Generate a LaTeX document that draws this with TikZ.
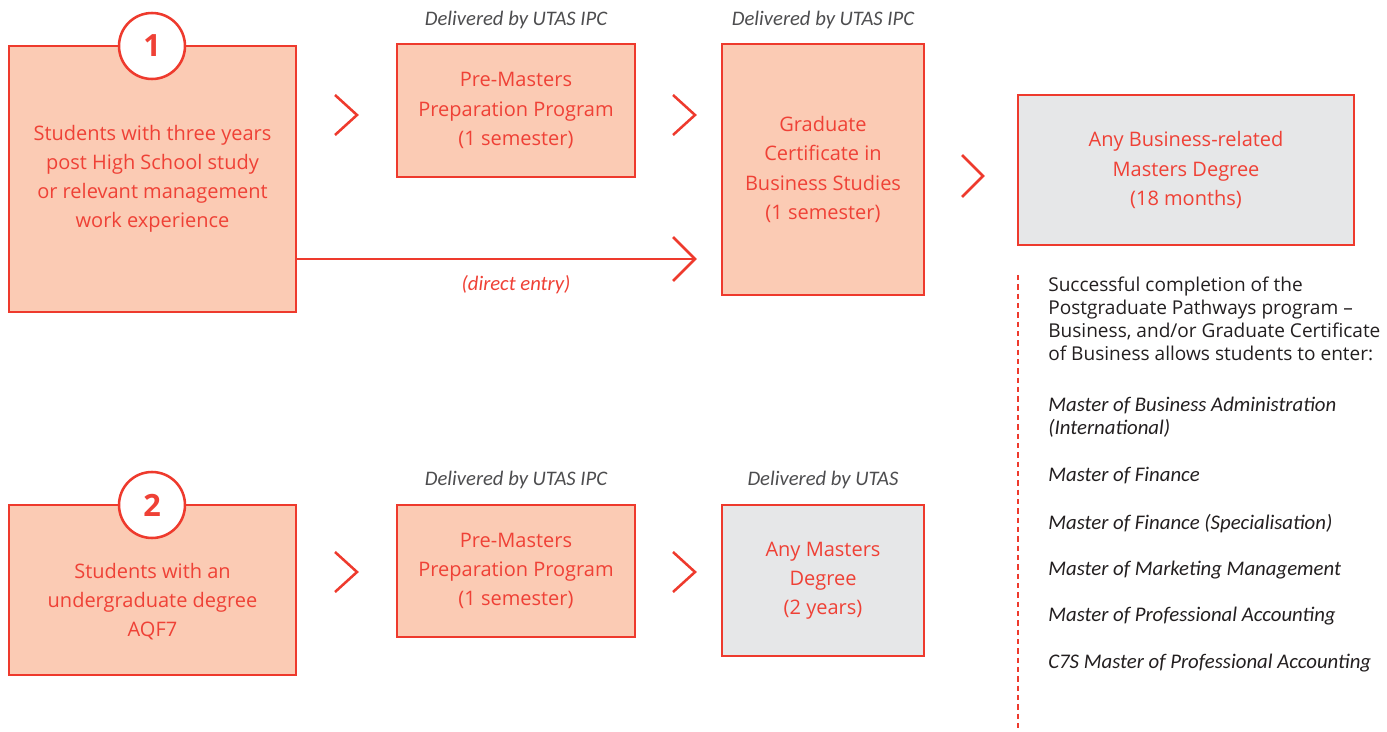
\documentclass[tikz,border=0pt]{standalone}
\usepackage{fontspec}
\setmainfont{Open Sans}
\newfontfamily\itfont{Carlito}
\definecolor{ored}{HTML}{EE3A2D}
\definecolor{otext}{HTML}{EF4136}
\definecolor{peach}{HTML}{FBCBB4}
\definecolor{lgrey}{HTML}{E6E7E8}
\definecolor{dgrey}{HTML}{231F20}
\definecolor{mgrey}{HTML}{4D4D4F}
\begin{document}
\begin{tikzpicture}[x=0.75pt,y=-0.75pt,
  box/.style={draw=ored,line width=1.9pt,inner sep=0pt,align=center,text=otext,
    font=\fontsize{15}{21.8}\selectfont},
  pbox/.style={box,fill=peach},
  gbox/.style={box,fill=lgrey},
  numcirc/.style={circle,draw=ored,fill=white,line width=1.9pt,minimum size=49.5pt,inner sep=0pt,
    text=otext,font=\fontsize{23}{23}\selectfont\bfseries},
  chev/.style={draw=ored,line width=1.9pt},
  deliv/.style={text=mgrey,font=\itfont\itshape\fontsize{15.5}{17}\selectfont},
  side/.style={text=dgrey,anchor=north west,align=left,inner sep=0pt,font=\fontsize{14.3}{17.25}\selectfont},
  sideit/.style={side,font=\itfont\itshape\fontsize{15.6}{17.25}\selectfont}
]
\useasboundingbox (0,0) rectangle (1387,731);
% row 1
\node[pbox,minimum width=215.25pt,minimum height=199.5pt] (b1) at (152.5,179)
  {Students with three years\\post High School study\\or relevant management\\work experience};
\node[numcirc] (c1) at (152,46) {1};
\node[pbox,minimum width=178.5pt,minimum height=99.75pt] (b2) at (516,110.5)
  {Pre-Masters\\Preparation Program\\(1 semester)};
\node[pbox,minimum width=151.5pt,minimum height=188.25pt] (b3) at (823,169.5)
  {Graduate\\Certificate in\\Business Studies\\(1 semester)};
\node[gbox,minimum width=252pt,minimum height=112.5pt] (b4) at (1186,170)
  {Any Business-related\\Masters Degree\\(18 months)};
\node[deliv] (d1) at (516,20) {Delivered by UTAS IPC};
\node[deliv] (d2) at (823,20) {Delivered by UTAS IPC};
% chevrons row 1
\draw[chev] (335,95) -- (357,115) -- (335,135);
\draw[chev] (673,95) -- (695,115) -- (673,135);
\draw[chev] (962,155) -- (983,176) -- (962,197);
% direct entry
\coordinate (de) at (695,259);
\draw[chev] (b1.east |- de) -- (de);
\draw[chev] (673,237) -- (de) -- (673,281);
\node[deliv,text=otext] (dl) at (516,285) {(direct entry)};
% row 2
\node[pbox,minimum width=215.25pt,minimum height=127.5pt] (b5) at (152.5,590) {};
\node[box,draw=none] (t5) at (152.5,602) {Students with an\\undergraduate degree\\AQF7};
\node[numcirc] (c2) at (152,505) {2};
\node[pbox,minimum width=178.5pt,minimum height=99pt] (b6) at (516,571)
  {Pre-Masters\\Preparation Program\\(1 semester)};
\node[gbox,minimum width=151.5pt,minimum height=113.25pt] (b7) at (823,580.5)
  {Any Masters\\Degree\\(2 years)};
\node[deliv] (d3) at (516,480) {Delivered by UTAS IPC};
\node[deliv] (d4) at (823,480) {Delivered by UTAS};
\draw[chev] (335,552) -- (357,572) -- (335,592);
\draw[chev] (673,552) -- (695,572) -- (673,592);
% dashed divider
\coordinate (dt) at (1018,275);
\coordinate (db) at (1018,731);
\draw[draw=ored,line width=1pt,dash pattern=on 4pt off 3pt] (dt) -- (db);
% side text
\node[side] (s0) at (1048,277) {Successful completion of the\\Postgraduate Pathways program –\\Business, and/or Graduate Certificate\\of Business allows students to enter:};
\node[sideit] (s1) at (1048,397) {Master of Business Administration\\(International)};
\node[sideit] (s2) at (1048,467) {Master of Finance};
\node[sideit] (s3) at (1048,514) {Master of Finance (Specialisation)};
\node[sideit] (s4) at (1048,561) {Master of Marketing Management};
\node[sideit] (s5) at (1048,607) {Master of Professional Accounting};
\node[sideit] (s6) at (1048,654) {C7S Master of Professional Accounting};
\end{tikzpicture}
\end{document}
